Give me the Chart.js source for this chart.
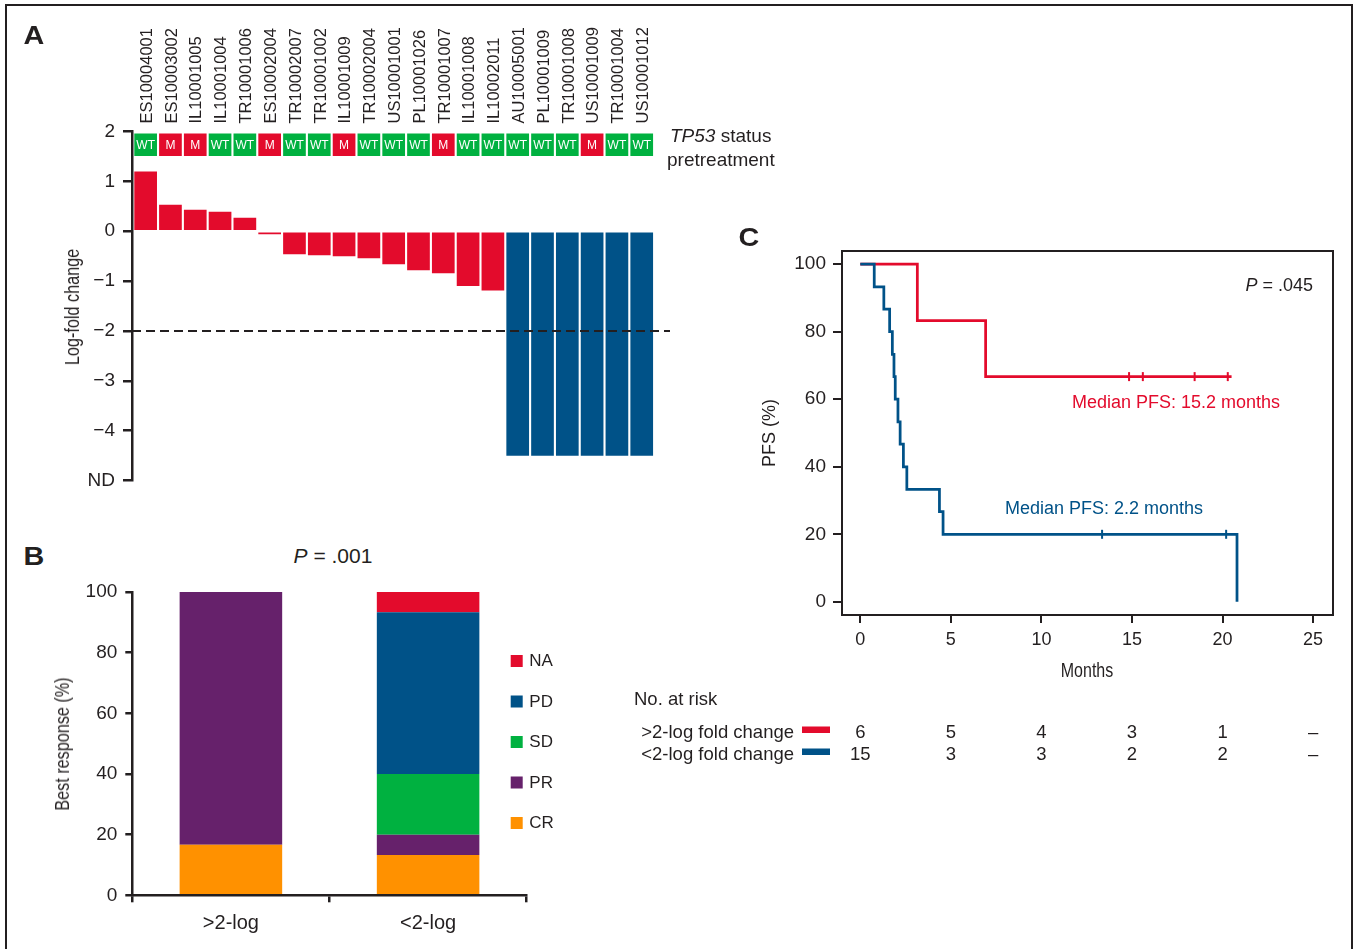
<!DOCTYPE html>
<html><head><meta charset="utf-8">
<script src="https://cdn.jsdelivr.net/npm/chart.js@4.4.1/dist/chart.umd.min.js"></script>
<style>
html,body{margin:0;padding:0;background:#fff;}
body{width:1353px;height:949px;overflow:hidden;position:relative;font-family:"Liberation Sans",Arial,sans-serif;color:#231f20;}
.frame{position:absolute;left:5px;top:4px;width:1348px;height:1000px;border:2.5px solid #231f20;box-sizing:border-box;}
canvas{position:absolute;}
.t{position:absolute;white-space:nowrap;line-height:1;}
.c{transform:translate(-50%,-50%);}
.l{transform:translate(0,-50%);}
.r{transform:translate(-100%,-50%);}
.letter{font-weight:bold;font-size:25px;transform:translate(-50%,-50%) scaleX(1.15);}
.narrow{font-size:20px;transform:translate(-50%,-50%) scaleX(0.8);}
.vnarrow{font-size:20px;transform:translate(-50%,-50%) rotate(-90deg) scaleX(0.81);}
</style></head><body>
<div class="frame"></div>
<canvas id="chartA" width="700" height="500" style="left:0;top:0"></canvas>
<canvas id="chartB" width="600" height="379" style="left:0;top:570px"></canvas>
<canvas id="chartC" width="733" height="560" style="left:620px;top:230px"></canvas>

<div class="t letter" style="left:34px;top:35px">A</div>
<div class="t letter" style="left:34px;top:556px">B</div>
<div class="t letter" style="left:749px;top:237px">C</div>

<div class="t l" style="left:670px;top:135px;font-size:19px"><i>TP53</i> status</div>
<div class="t l" style="left:667px;top:159px;font-size:19px">pretreatment</div>
<div class="t c" style="left:333px;top:555px;font-size:21px"><i>P</i> = .001</div>
<div class="t r" style="left:1313px;top:285px;font-size:18px"><i>P</i> = .045</div>
<div class="t l" style="left:1072px;top:402px;font-size:18px;color:#e30b2c">Median PFS: 15.2 months</div>
<div class="t l" style="left:1005px;top:508px;font-size:18px;color:#005288">Median PFS: 2.2 months</div>

<div class="t vnarrow" style="left:72px;top:307px">Log-fold change</div>
<div class="t vnarrow" style="left:62px;top:744px">Best response (%)</div>
<div class="t narrow" style="left:1087px;top:670px">Months</div>

<script>
// ---------- Panel A data ----------
const patientIds = ['ES10004001','ES10003002','IL10001005','IL10001004','TR10001006','ES10002004','TR10002007','TR10001002','IL10001009','TR10002004','US10001001','PL10001026','TR10001007','IL10001008','IL10002011','AU10005001','PL10001009','TR10001008','US10001009','TR10001004','US10001012'];
const tp53Status = ['WT','M','M','WT','WT','M','WT','WT','M','WT','WT','WT','M','WT','WT','WT','WT','WT','M','WT','WT'];
const logFoldChange = [1.20,0.53,0.43,0.39,0.27,-0.06,-0.46,-0.48,-0.50,-0.54,-0.66,-0.78,-0.84,-1.10,-1.19,-4.5,-4.5,-4.5,-4.5,-4.5,-4.5];
const thresholdLog = -2;
const logAxisMin = -5;   // labelled "ND"
const logAxisMax = 2;
const tp53Band = [1.51, 1.96];

// ---------- Panel B data ----------
const responseGroups = ['>2-log','<2-log'];
const crPct = [16.7, 13.3];
const prPct = [83.3, 6.7];
const sdPct = [0, 20.0];
const pdPct = [0, 53.3];
const naPct = [0, 6.7];

// ---------- Panel C data ----------
const kmHighTimes = [0, 3.15, 6.92, 20.5];
const kmHighPFS   = [100, 83.3, 66.7, 66.7];
const kmHighCensorTimes = [14.84, 15.6, 18.46, 20.29];
const kmLowTimes = [0, 0.77, 1.3, 1.62, 1.77, 1.86, 1.93, 2.08, 2.2, 2.38, 2.57, 4.37, 4.57, 20.8];
const kmLowPFS   = [100, 93.3, 86.7, 80, 73.3, 66.7, 60, 53.3, 46.7, 40, 33.3, 26.7, 20, 0];
const kmLowCensorTimes = [13.35, 20.2];
const riskTimes = [0, 5, 10, 15, 20, 25];
const atRiskHigh = ['6','5','4','3','1','–'];
const atRiskLow  = ['15','3','3','2','2','–'];
const riskRowLabels = ['>2-log fold change','<2-log fold change'];

// ---------- styles ----------
const INK = '#231f20';
const RED = '#e30b2c', BLUE = '#005288', GREEN = '#00b140', PURPLE = '#66216b', ORANGE = '#ff9100';
const SANS = '"Liberation Sans", Arial, sans-serif';
Chart.defaults.font.family = SANS;
Chart.defaults.color = INK;
const minus = v => v < 0 ? '\u2212' + Math.abs(v) : String(v);

// ---------- Panel A ----------
new Chart(document.getElementById('chartA'), {
  type: 'bar',
  data: { datasets: [
    { label: 'TP53', data: tp53Status.map((s, i) => ({ x: i, y: tp53Band })),
      backgroundColor: tp53Status.map(s => s === 'M' ? RED : GREEN),
      grouped: false, categoryPercentage: 0.915, barPercentage: 1, borderWidth: 0 },
    { label: 'Log-fold change', data: logFoldChange.map((v, i) => ({ x: i, y: v })),
      backgroundColor: logFoldChange.map(v => v > thresholdLog ? RED : BLUE),
      grouped: false, categoryPercentage: 0.915, barPercentage: 1, borderWidth: 0 }
  ]},
  options: {
    responsive: false, animation: false,
    layout: { padding: { left: 0, top: 0, right: 30, bottom: 19 } },
    plugins: { legend: { display: false }, tooltip: { enabled: false } },
    scales: {
      x: { type: 'linear', position: 'top', offset: false, min: -0.55, max: 21.14,
        afterFit: s => { s.height = 131.5; },
        grid: { display: false, offset: false }, border: { display: false },
        ticks: { stepSize: 1, includeBounds: false, autoSkip: false, maxTicksLimit: 100,
          minRotation: 90, maxRotation: 90, padding: 0, labelOffset: 21.5, color: INK, font: { size: 16.5 },
          callback: v => patientIds[v] ?? '' } },
      y: { min: logAxisMin, max: logAxisMax,
        afterFit: s => { s.width = 132; },
        grid: { drawOnChartArea: false, drawTicks: true, tickLength: 9, color: INK, tickColor: INK, lineWidth: 2.5 },
        border: { display: true, color: INK, width: 2.5 },
        ticks: { stepSize: 1, padding: 8, color: INK, font: { size: 19 },
          callback: v => v === logAxisMin ? 'ND' : minus(v) } }
    }
  },
  plugins: [{
    id: 'aExtras',
    afterDatasetsDraw(chart) {
      const ctx = chart.ctx, ca = chart.chartArea;
      ctx.save();
      ctx.fillStyle = '#fff';
      ctx.font = '12px ' + SANS;
      ctx.textAlign = 'center'; ctx.textBaseline = 'middle';
      chart.getDatasetMeta(0).data.forEach((el, i) => {
        const p = el.getProps(['x', 'y', 'base'], true);
        ctx.fillText(tp53Status[i], p.x, (p.y + p.base) / 2 + 0.5);
      });
      const yp = chart.scales.y.getPixelForValue(thresholdLog);
      ctx.strokeStyle = INK; ctx.lineWidth = 2; ctx.setLineDash([9, 5]);
      ctx.beginPath(); ctx.moveTo(ca.left, yp); ctx.lineTo(ca.right, yp); ctx.stroke();
      ctx.restore();
    }
  }]
});

// ---------- Panel B ----------
const mkB = (label, data, color) => ({ label, data, backgroundColor: color, borderWidth: 0, barPercentage: 0.52, categoryPercentage: 1 });
new Chart(document.getElementById('chartB'), {
  type: 'bar',
  data: { labels: responseGroups, datasets: [
    mkB('CR', crPct, ORANGE), mkB('PR', prPct, PURPLE), mkB('SD', sdPct, GREEN),
    mkB('PD', pdPct, BLUE), mkB('NA', naPct, RED)
  ]},
  options: {
    responsive: false, animation: false,
    layout: { padding: { left: 0, top: 22, right: 73.3, bottom: 0 } },
    plugins: { legend: { display: false }, tooltip: { enabled: false } },
    scales: {
      x: { stacked: true, offset: true,
        afterFit: s => { s.height = 53.7; },
        grid: { offset: true, drawOnChartArea: false, drawTicks: true, tickLength: 7, color: INK, tickColor: INK, lineWidth: 2.5 },
        border: { display: true, color: INK, width: 2.5 },
        ticks: { padding: 9, color: INK, font: { size: 20 } } },
      y: { stacked: true, min: 0, max: 100,
        afterFit: s => { s.width = 132.3; },
        grid: { drawOnChartArea: false, drawTicks: true, tickLength: 7, color: INK, tickColor: INK, lineWidth: 2.5 },
        border: { display: true, color: INK, width: 2.5 },
        ticks: { stepSize: 20, padding: 8, color: INK, font: { size: 19 } } }
    }
  },
  plugins: [{
    id: 'bLegend',
    afterDraw(chart) {
      const ctx = chart.ctx, ca = chart.chartArea;
      const items = chart.data.datasets.slice().reverse();
      ctx.save();
      ctx.font = '17px ' + SANS; ctx.textBaseline = 'middle'; ctx.textAlign = 'left';
      items.forEach((ds, i) => {
        const cy = ca.top + 69 + i * 40.5;
        ctx.fillStyle = ds.backgroundColor;
        ctx.fillRect(ca.right - 16, cy - 6, 12, 12);
        ctx.fillStyle = INK;
        ctx.fillText(ds.label, ca.right + 2.6, cy + 0.5);
      });
      ctx.restore();
    }
  }]
});

// ---------- Panel C ----------
const stepValue = (times, vals, t) => { let v = vals[0]; for (let i = 0; i < times.length; i++) if (times[i] <= t) v = vals[i]; return v; };
new Chart(document.getElementById('chartC'), {
  type: 'line',
  data: { datasets: [
    { label: '<2-log fold change', data: kmLowTimes.map((t, i) => ({ x: t, y: kmLowPFS[i] })),
      borderColor: BLUE, borderWidth: 2.75, stepped: 'before', pointRadius: 0, fill: false },
    { label: '>2-log fold change', data: kmHighTimes.map((t, i) => ({ x: t, y: kmHighPFS[i] })),
      borderColor: RED, borderWidth: 2.75, stepped: 'before', pointRadius: 0, fill: false },
    { label: 'censor low', data: kmLowCensorTimes.map(t => ({ x: t, y: stepValue(kmLowTimes, kmLowPFS, t) })),
      showLine: false, pointStyle: 'line', pointRotation: 90, pointRadius: 4.5, pointBorderWidth: 2, pointBorderColor: BLUE, borderColor: BLUE },
    { label: 'censor high', data: kmHighCensorTimes.map(t => ({ x: t, y: stepValue(kmHighTimes, kmHighPFS, t) })),
      showLine: false, pointStyle: 'line', pointRotation: 90, pointRadius: 4.5, pointBorderWidth: 2, pointBorderColor: RED, borderColor: RED }
  ]},
  options: {
    responsive: false, animation: false,
    layout: { padding: { left: 0, top: 21, right: 20, bottom: 100 } },
    plugins: { legend: { display: false }, tooltip: { enabled: false } },
    scales: {
      x: { type: 'linear', min: -1.01, max: 26.1,
        afterFit: s => { s.height = 75; },
        grid: { drawOnChartArea: false, drawTicks: true, tickLength: 8, color: INK, tickColor: INK, lineWidth: 2 },
        border: { display: true, color: INK, width: 2 },
        ticks: { stepSize: 5, includeBounds: false, padding: 6, color: INK, font: { size: 18 } } },
      y: { min: -3.9, max: 103.9,
        afterFit: s => { s.width = 222; },
        grid: { drawOnChartArea: false, drawTicks: true, tickLength: 9, color: INK, tickColor: INK, lineWidth: 2 },
        border: { display: true, color: INK, width: 2 },
        ticks: { stepSize: 20, includeBounds: false, padding: 7, color: INK, font: { size: 19 } },
        title: { display: true, text: 'PFS (%)', color: INK, font: { size: 18 }, padding: { top: 139, bottom: 0 } } }
    }
  },
  plugins: [{
    id: 'cExtras',
    afterDraw(chart) {
      const ctx = chart.ctx, ca = chart.chartArea, xs = chart.scales.x;
      ctx.save();
      ctx.strokeStyle = INK; ctx.lineWidth = 2;
      ctx.strokeRect(ca.left, ca.top, ca.right - ca.left, ca.bottom - ca.top);
      ctx.fillStyle = INK; ctx.font = '18.5px ' + SANS; ctx.textBaseline = 'middle';
      ctx.textAlign = 'left';
      ctx.fillText('No. at risk', 14, ca.bottom + 85);
      const rows = [atRiskHigh, atRiskLow];
      const colors = [RED, BLUE];
      rows.forEach((row, r) => {
        const y = ca.bottom + 118 + r * 22;
        ctx.fillStyle = INK; ctx.textAlign = 'right';
        ctx.fillText(riskRowLabels[r], 174, y);
        ctx.fillStyle = colors[r];
        ctx.fillRect(182, y - 6.5, 28, 6.5);
        ctx.fillStyle = INK; ctx.textAlign = 'center';
        row.forEach((v, i) => ctx.fillText(v, xs.getPixelForValue(riskTimes[i]), y));
      });
      ctx.restore();
    }
  }]
});
</script>
</body></html>
